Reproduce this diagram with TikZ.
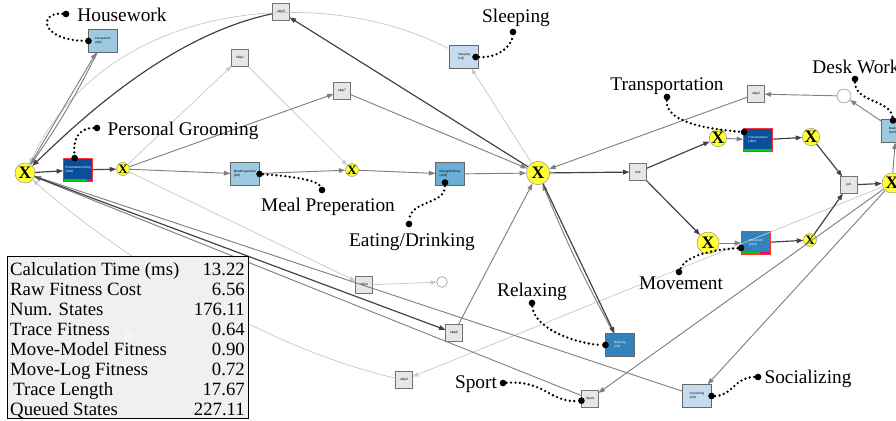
\documentclass[tikz,border=0pt]{standalone}
\usepackage{fontspec}
\setmainfont{Liberation Serif}
\setsansfont{Liberation Sans}
\usetikzlibrary{arrows.meta,positioning,calc}

\definecolor{gwyellow}{HTML}{FFFF33}
\definecolor{hotred}{HTML}{FF3030}
\definecolor{skipgray}{HTML}{E6E6E6}
\definecolor{actlight}{HTML}{C6DBEF}
\definecolor{actmid}{HTML}{9ECAE1}
\definecolor{actblue}{HTML}{6BAED6}
\definecolor{actdeep}{HTML}{3182BD}
\definecolor{actdark}{HTML}{0B4F9C}

\begin{document}
\begin{tikzpicture}[x=0.03cm,y=-0.03cm,
    gw/.style={circle,draw=black!45,fill=gwyellow,minimum size=0.6cm,inner sep=-3pt,
               font=\bfseries\fontsize{15}{15}\selectfont},
    gwsmall/.style={gw,minimum size=0.39cm,font=\bfseries\fontsize{11}{11}\selectfont},
    act/.style={draw=black!60,minimum width=0.86cm,minimum height=0.68cm,inner sep=0.6pt,
                align=left,font=\sffamily\fontsize{2.6}{3.2}\selectfont},
    hot/.style={act,draw=hotred,line width=1pt,text=white,fill=actdark},
    gbar/.style={path picture={
        \fill[green!80!black] (path picture bounding box.south west) rectangle
          ($(path picture bounding box.south west)!#1!(path picture bounding box.south east)+(0,0.08cm)$);
        \fill[magenta] ($(path picture bounding box.south west)!#1!(path picture bounding box.south east)$)
          rectangle ([yshift=0.08cm]path picture bounding box.south east);}},
    skipbox/.style={draw=black!55,fill=skipgray,minimum size=0.5cm,inner sep=0.5pt,
                    font=\sffamily\fontsize{2.8}{3.2}\selectfont},
    place/.style={circle,draw=black!50,fill=white,inner sep=0pt},
    dk/.style={-{Triangle[length=5.5pt,width=4pt]},black!75,line width=1pt},
    md/.style={-{Triangle[length=5.5pt,width=4pt]},black!50,line width=0.8pt},
    lt/.style={-{Triangle[length=5pt,width=3.6pt]},black!22,line width=0.6pt},
    note/.style={line width=2.2pt,dash pattern=on 0pt off 3.8pt,line cap=round},
    dot/.style={circle,fill=black,inner sep=0pt,minimum size=0.2cm},
    lbl/.style={anchor=base,font=\fontsize{16.5}{18}\selectfont},
    row/.style={inner sep=0pt,font=\fontsize{16}{17}\selectfont},
  ]
  \useasboundingbox (0,0) rectangle (896,421);
  \clip (0,0) rectangle (896,421);

  % gateways
  \node[gw]      (xStart)    at (25,173)  {X};
  \node[gwsmall] (xSplit)    at (123,169) {X};
  \node[gwsmall] (xMeal)     at (352,170) {X};
  \node[gw,minimum size=0.7cm] (xHub) at (538,173) {X};
  \node[gw,minimum size=0.52cm] (xTrans)    at (718,138) {X};
  \node[gw,minimum size=0.52cm] (xTransOut) at (811,137) {X};
  \node[gw,minimum size=0.66cm] (xMove)     at (708,243) {X};
  \node[gwsmall] (xMoveOut)  at (810,240) {X};
  \node[gw]      (xEnd)      at (892,183) {X};

  % activities
  \node[act,fill=actmid]  (aHouse) at (103,41)  {Housework\\(8/8)};
  \node[hot,gbar=0.8]     (aGroom) at (78,170)  {PersonalGrooming\\(30/9)};
  \node[act,fill=actmid]  (aMeal)  at (245,174) {MealPreperation\\(8/0)};
  \node[act,fill=actblue] (aEat)   at (450,174) {Eating/Drinking\\(11/0)};
  \node[act,fill=actlight](aSleep) at (464,57)  {Sleeping\\(1/0)};
  \node[hot,gbar=1]       (aTrans) at (758,140) {Transportation\\(18/2)};
  \node[hot,fill=actdeep,gbar=0.65] (aMove) at (756,243) {Movement\\(10/4)};
  \node[act,fill=actdeep,text=white] (aRelax) at (620,345) {Relaxing\\(7/0)};
  \node[act,fill=actlight](aSocial)at (697,396) {Socializing\\(4/0)};
  \node[act,fill=actmid]  (aDesk)  at (896,131) {DeskWork\\(16/0)};
  \node[skipbox]          (aSport) at (590,399) {Sport};

  % silent steps and places
  \foreach \n/\x/\y/\t in {s5/281/12/skip5, s1/240/58/skip1, s7/342/91/skip7,
      s2/756/94/skip2, s4/364/285/skip4, s6/454/333/skip6, s3/404/380/skip3,
      sFork/638/172/fork, sJoin/849/185/join}
    \node[skipbox] (\n) at (\x,\y) {\t};
  \node[place,minimum size=0.42cm] (cDesk) at (844,96)  {};
  \node[place,minimum size=0.32cm] (cEnd)  at (442,282) {};

  % light arcs
  \draw[lt] (aSleep) .. controls (330,-15) and (110,-5) .. (xStart);
  \draw[lt] (s3) .. controls (250,345) and (100,240) .. (xStart);
  \draw[lt] (xSplit) -- (s1);
  \draw[lt] (s1) -- (xMeal);
  \draw[lt] (xHub) -- (aSleep);
  \draw[lt] (xSplit) -- (s4);
  \draw[lt] (s4) -- (cEnd);
  \draw[lt] (xEnd) -- (s3);

  % grey arcs
  \draw[md] (xStart) -- (aHouse);
  \draw[md] (aHouse) to[bend left=4] (xStart);
  \draw[md] (xSplit) -- (s7);
  \draw[md] (s7) -- (xHub);
  \draw[md] (xSplit) -- (aMeal);
  \draw[md] (aMeal) -- (xMeal);
  \draw[md] (xMeal) -- (aEat);
  \draw[md] (aEat) -- (xHub);
  \draw[md] (xTrans) -- (aTrans);
  \draw[md] (xMove) -- (aMove);
  \draw[md] (xEnd) -- (aDesk);
  \draw[md] (aDesk) -- (cDesk);
  \draw[md] (cDesk) -- (s2);
  \draw[md] (s2) -- (xHub);
  \draw[md] (s6) -- (xHub);
  \draw[md] (aRelax) to[bend left=3] (xHub);
  \draw[md] (aSocial) -- (xStart);
  \draw[md] (aSport) -- (xStart);
  \draw[md] (xEnd) -- (aSport);
  \draw[md] (xEnd) -- (aSocial);

  % dark arcs
  \draw[dk] (xStart) -- (aGroom);
  \draw[dk] (aGroom) -- (xSplit);
  \draw[dk] (s5) .. controls (170,35) and (80,120) .. (xStart);
  \draw[dk] (xHub) -- (s5);
  \draw[dk] (xHub) -- (sFork);
  \draw[dk] (sFork) -- (xTrans);
  \draw[dk] (sFork) -- (xMove);
  \draw[dk] (aTrans) -- (xTransOut);
  \draw[dk] (xTransOut) -- (sJoin);
  \draw[dk] (sJoin) -- (xEnd);
  \draw[dk] (aMove) -- (xMoveOut);
  \draw[dk] (xMoveOut) -- (sJoin);
  \draw[dk] (xHub) -- (aRelax);
  \draw[dk] (xStart) -- (s6);

  % activity labels
  \node[lbl] (tHouse)  at (122,21)  {Housework};
  \node[lbl] (tGroom)  at (183,135) {Personal Grooming};
  \node[lbl] (tMeal)   at (328,211) {Meal Preperation};
  \node[lbl] (tEat)    at (412,246) {Eating/Drinking};
  \node[lbl] (tSleep)  at (516,23)  {Sleeping};
  \node[lbl] (tTrans)  at (667,90)  {Transportation};
  \node[lbl] (tDesk)   at (856,73)  {Desk Work};
  \node[lbl] (tMove)   at (681,289) {Movement};
  \node[lbl] (tRelax)  at (532,296) {Relaxing};
  \node[lbl] (tSport)  at (476,388) {Sport};
  \node[lbl] (tSocial) at (808,383) {Socializing};

  % dotted pointers
  \node[dot] (dHouse)  at (66,14)   {};
  \node[dot] (eHouse)  at (aHouse.west) {};
  \draw[note] (dHouse) .. controls (38,12) and (40,40) .. (eHouse);
  \node[dot] (dGroom)  at (97,128)  {};
  \node[dot] (eGroom)  at ([xshift=-0.1cm]aGroom.north) {};
  \draw[note] (dGroom) .. controls (78,128) and (73,140) .. (eGroom);
  \node[dot] (dMeal)   at (322,190) {};
  \node[dot] (eMeal)   at (aMeal.east) {};
  \draw[note] (eMeal) .. controls (290,176) and (318,180) .. (dMeal);
  \node[dot] (dEat)    at (409,224) {};
  \node[dot] (eEat)    at ([shift={(-5,-3)}]aEat.south) {};
  \draw[note] (eEat) .. controls (445,205) and (410,200) .. (dEat);
  \node[dot] (dSleep)  at (513,32)  {};
  \node[dot] (eSleep)  at ([xshift=-0.09cm]aSleep.east) {};
  \draw[note] (eSleep) .. controls (500,58) and (512,45) .. (dSleep);
  \node[dot] (dTrans)  at (667,97)  {};
  \node[dot] (eTrans)  at ([shift={(1,4)}]aTrans.north west) {};
  \draw[note] (dTrans) .. controls (665,125) and (720,130) .. (eTrans);
  \node[dot] (dDesk)   at (855,79)  {};
  \node[dot] (eDesk)   at ([shift={(-3,1)}]aDesk.north) {};
  \draw[note] (dDesk) .. controls (855,102) and (890,100) .. (eDesk);
  \node[dot] (dMove)   at (679,272) {};
  \node[dot] (eMove)   at ([yshift=-0.15cm]aMove.west) {};
  \draw[note] (eMove) .. controls (705,250) and (685,258) .. (dMove);
  \node[dot] (dRelax)  at (532,303) {};
  \node[dot] (eRelax)  at (aRelax.west) {};
  \draw[note] (dRelax) .. controls (535,332) and (585,345) .. (eRelax);
  \node[dot] (dSport)  at (503,383) {};
  \node[dot] (eSport)  at ([yshift=-0.05cm]aSport.west) {};
  \draw[note] (dSport) .. controls (545,380) and (550,403) .. (eSport);
  \node[dot] (dSocial) at (758,377) {};
  \node[dot] (eSocial) at (aSocial.east) {};
  \draw[note] (eSocial) .. controls (732,396) and (735,377) .. (dSocial);

  % statistics table
  \node[draw=black,fill=black!6,line width=0.8pt,minimum width=7.23cm,minimum height=4.86cm,
        anchor=north west,inner sep=0pt] (stats) at (7,256) {};
  \node[row,text=white,font=\fontsize{13}{13}\selectfont] (zero) at (128,337) {0};
  \foreach \i/\name/\val in {0/Calculation Time (ms)/13.22, 1/Raw Fitness Cost/6.56,
      2/Num. States/176.11, 3/Trace Fitness/0.64, 4/Move-Model Fitness/0.90,
      5/Move-Log Fitness/0.72, 6/\,Trace Length/17.67, 7/Queued States/227.11} {
    \node[row,anchor=base west] (n\i) at (10,275+20*\i)  {\name};
    \node[row,anchor=base east] (v\i) at (245,275+20*\i) {\val};
  }
\end{tikzpicture}
\end{document}
